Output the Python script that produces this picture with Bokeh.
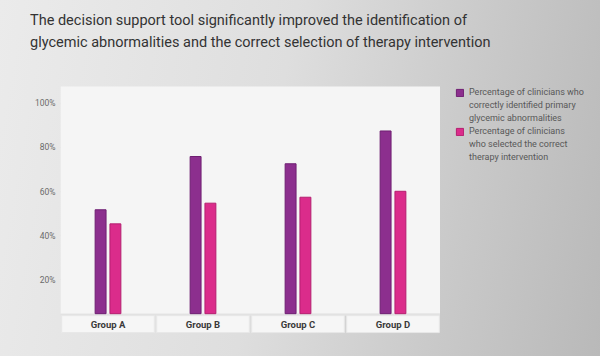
from bokeh.plotting import figure
from bokeh.layouts import row, column
from bokeh.models import (FactorRange, Range1d, FixedTicker, Legend, LegendItem, Div,
                          BoxAnnotation, ColumnDataSource)
from bokeh.transform import dodge
from bokeh.core.properties import value
from bokeh.embed import file_html
from bokeh.resources import INLINE

# ---- data ----
groups = ["Group A", "Group B", "Group C", "Group D"]
identified = [51.7, 75.9, 72.6, 87.5]
selected = [45.3, 54.7, 57.4, 60.1]
y_ticks = [20, 40, 60, 80, 100]
y_tick_labels = ["20%", "40%", "60%", "80%", "100%"]
legend_lines = [["Percentage of clinicians who", "correctly identified primary", "glycemic abnormalities"],
                ["Percentage of clinicians", "who selected the correct", "therapy intervention"]]
title_lines = ["The decision support tool significantly improved the identification of",
               "glycemic abnormalities and the correct selection of therapy intervention"]

FONT = "Roboto"
BASE = 4.5          # baseline of bars (axis floor)
PANEL_TOP = 107.7   # top of the light chart panel
Y_TOP = 114.06      # top of the plotting frame (legend sits at this height)
PURPLE = "#8c2f8e"
PINK = "#db2c8b"
PURPLE_LINE = "#6f1f72"
PINK_LINE = "#b51f70"

src = ColumnDataSource(dict(group=groups, identified=identified, selected=selected,
                            base=[BASE] * len(groups), lab_y=[-0.25] * len(groups)))

# ---- title ----
title = Div(text=('<div style="padding:10px 0 0 30px; font-family:Roboto; font-size:14.5px; '
                  'line-height:22px; color:#333333; white-space:nowrap;">'
                  + "<br>".join(title_lines) + "</div>"),
            width=600, height=72, margin=0)

# ---- chart ----
p = figure(width=440, height=284, output_backend="svg", toolbar_location=None,
           x_range=FactorRange(*groups), y_range=Range1d(-4.5, Y_TOP),
           min_border_left=60, min_border_right=0, min_border_top=0, min_border_bottom=23)
p.border_fill_color = None
p.background_fill_color = None
p.outline_line_color = None

p.add_layout(BoxAnnotation(bottom=BASE, top=PANEL_TOP, fill_color="#f5f5f5", fill_alpha=1,
                           line_color=None, level="underlay"))
p.add_layout(BoxAnnotation(bottom=3.6, top=BASE, fill_color="#e2e2e2", fill_alpha=1,
                           line_color=None, level="underlay"))

p.rect(x="group", y="lab_y", width=0.975, height=7.7, source=src,
       fill_color="#f6f6f6", line_color="#e8e8e8", line_width=1)
p.text(x="group", y="lab_y", text="group", source=src, text_align="center", text_baseline="middle",
       text_font=value(FONT), text_font_size="9.5px", text_font_style="bold", text_color="#3a3a3a")

p.vbar(x=dodge("group", -0.078, range=p.x_range), top="identified", bottom="base", width=0.115,
       source=src, fill_color=PURPLE, line_color=PURPLE_LINE, line_width=1)
p.vbar(x=dodge("group", 0.078, range=p.x_range), top="selected", bottom="base", width=0.115,
       source=src, fill_color=PINK, line_color=PINK_LINE, line_width=1)

p.xaxis.visible = False
p.yaxis.ticker = FixedTicker(ticks=y_ticks)
p.yaxis.major_label_overrides = {t: l for t, l in zip(y_ticks, y_tick_labels)}
p.yaxis.axis_line_color = None
p.yaxis.major_tick_line_color = None
p.yaxis.minor_tick_line_color = None
p.yaxis.major_tick_out = 0
p.yaxis.major_tick_in = 0
p.yaxis.major_label_standoff = 5
p.yaxis.major_label_text_font = FONT
p.yaxis.major_label_text_font_size = "8.5px"
p.yaxis.major_label_text_color = "#6a6a6a"
p.xgrid.grid_line_color = None
p.ygrid.grid_line_color = "#d6d6d6"
p.ygrid.grid_line_width = 1

# ---- legend panel (its own figure; its series renderers are hidden) ----
q = figure(width=160, height=284, output_backend="svg", toolbar_location=None,
           x_range=FactorRange(*groups), y_range=Range1d(-4.5, Y_TOP),
           min_border_left=0, min_border_right=0, min_border_top=0, min_border_bottom=23)
q.border_fill_color = None
q.background_fill_color = None
q.outline_line_color = None
q.axis.visible = False
q.grid.visible = False
g1 = q.vbar(x="group", top="identified", bottom="base", width=0.1, source=src,
            fill_color=PURPLE, line_color=PURPLE_LINE, visible=False)
g2 = q.vbar(x="group", top="selected", bottom="base", width=0.1, source=src,
            fill_color=PINK, line_color=PINK_LINE, visible=False)
gb = q.vbar(x="group", top="base", bottom="base", width=0.1, source=src,
            fill_alpha=0, line_alpha=0, visible=False)

items = []
for lines, glyph in zip(legend_lines, [g1, g2]):
    items.append(LegendItem(label=lines[0], renderers=[glyph]))
    for extra in lines[1:]:
        items.append(LegendItem(label=extra, renderers=[gb]))

legend = Legend(items=items, location=(15, 171), orientation="vertical",
                glyph_width=9, glyph_height=9, label_standoff=5, spacing=3, padding=0, margin=0,
                label_height=0, border_line_color=None, background_fill_alpha=0,
                label_text_font=FONT, label_text_font_size="9px", label_text_color="#585858",
                label_text_line_height=1.2)
q.add_layout(legend, "center")

layout = column(title, row(p, q))
layout.styles = {"background": "linear-gradient(100deg, #ebebeb 0%, #dedede 45%, #c9c9c9 75%, #b9b9b9 100%)"}

open("out.html", "w").write(file_html(layout, INLINE))
